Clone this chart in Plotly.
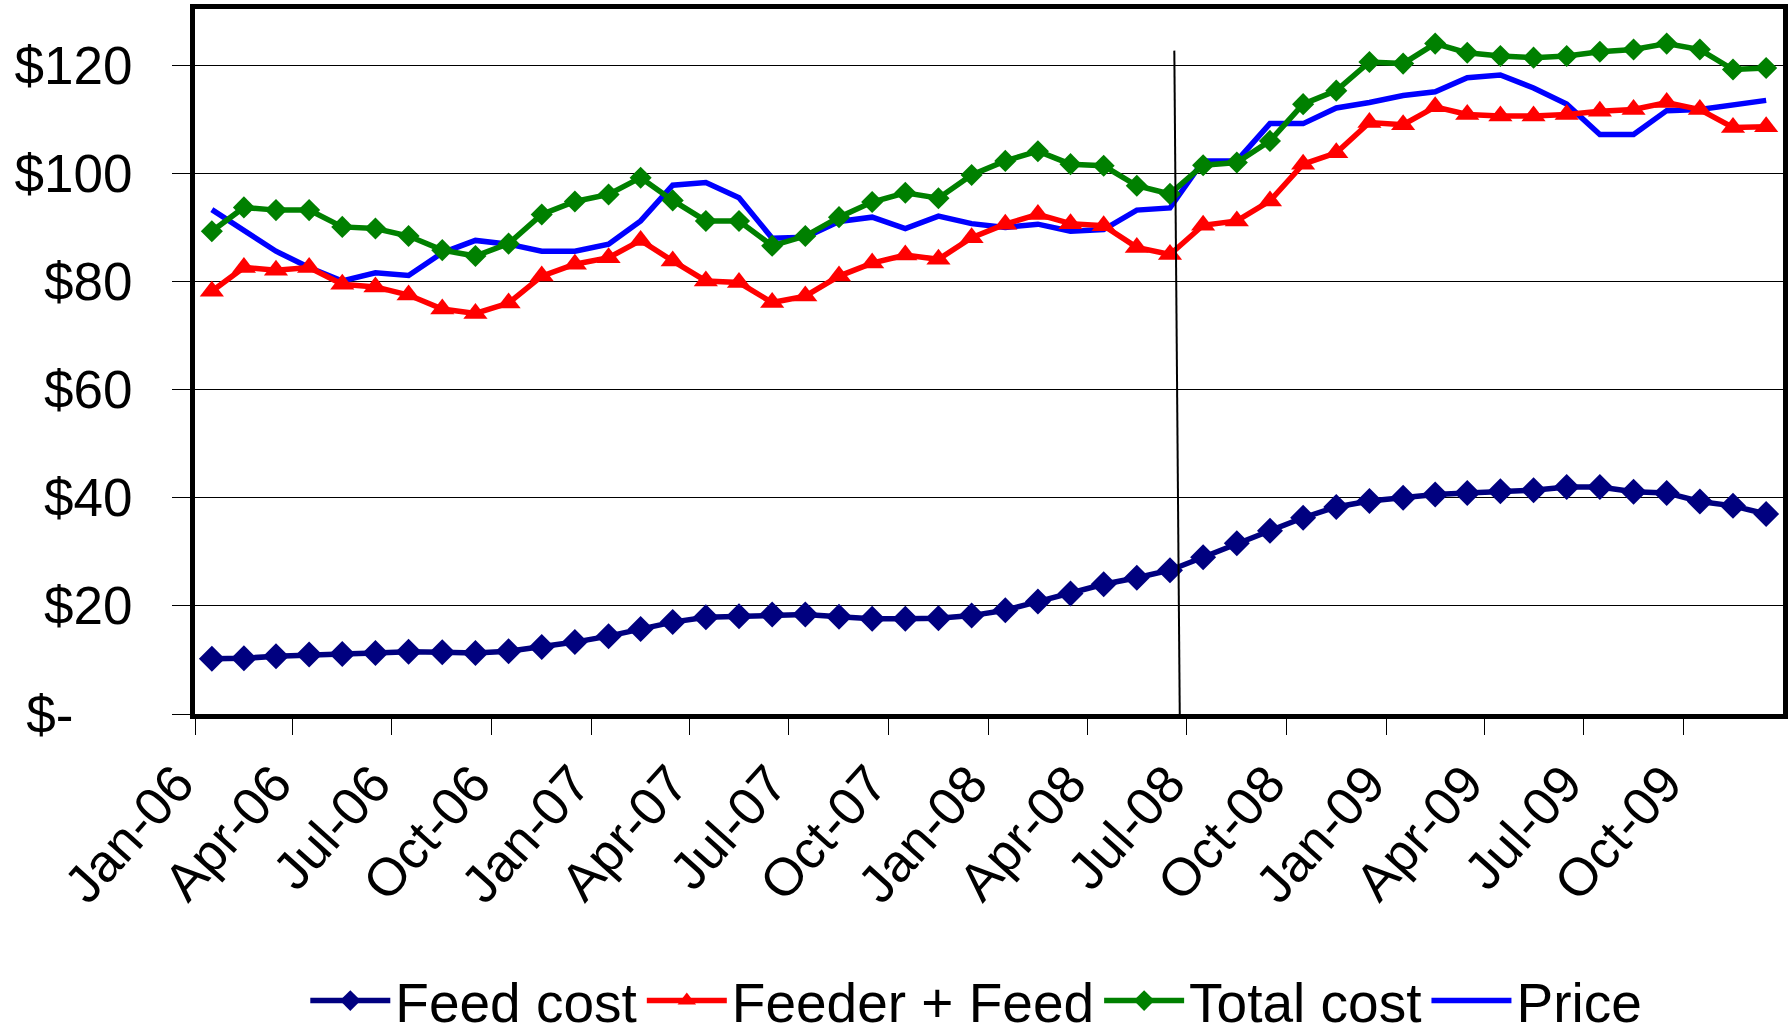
import pandas as pd
import plotly.graph_objects as go

# monthly series Jan-06 .. Dec-09
MONTHS = pd.period_range("2006-01", "2009-12", freq="M").strftime("%Y-%m").tolist()
TICK_MONTHS = MONTHS[::3]
TICK_LABELS = ["Jan-06", "Apr-06", "Jul-06", "Oct-06", "Jan-07", "Apr-07", "Jul-07", "Oct-07",
               "Jan-08", "Apr-08", "Jul-08", "Oct-08", "Jan-09", "Apr-09", "Jul-09", "Oct-09"]
Y_TICKS = [0, 20, 40, 60, 80, 100, 120]
Y_TICK_LABELS = ["$-\u00a0\u00a0\u00a0\u00a0", "$20", "$40", "$60", "$80", "$100", "$120"]

FEED_COST = [10.2, 10.3, 10.7, 11.0, 11.1, 11.3, 11.5, 11.4, 11.3, 11.6, 12.4, 13.3,
             14.4, 15.7, 17.0, 17.9, 18.1, 18.4, 18.4, 18.0, 17.6, 17.6, 17.7, 18.2,
             19.2, 20.8, 22.3, 24.0, 25.2, 26.6, 29.0, 31.6, 33.9, 36.3, 38.3, 39.4,
             40.0, 40.6, 40.9, 41.2, 41.4, 42.0, 42.0, 41.1, 40.9, 39.3, 38.5, 37.0]
FEEDER_FEED = [78.2, 82.6, 82.1, 82.6, 79.5, 79.0, 77.5, 74.9, 74.1, 76.0, 81.0, 83.2,
               84.4, 87.6, 83.8, 80.1, 79.8, 76.1, 77.3, 81.0, 83.4, 84.9, 84.1, 88.1,
               90.6, 92.4, 90.7, 90.3, 86.3, 85.0, 90.4, 91.2, 94.9, 101.7, 103.8, 109.4,
               109.0, 112.3, 110.9, 110.6, 110.6, 110.9, 111.5, 111.8, 113.1, 111.8, 108.5, 108.6]
TOTAL_COST = [89.3, 93.7, 93.2, 93.2, 90.1, 89.8, 88.4, 85.8, 84.7, 87.0, 92.4, 94.8,
              96.1, 99.2, 95.0, 91.2, 91.2, 86.6, 88.4, 91.9, 94.7, 96.4, 95.4, 99.7,
              102.3, 104.1, 101.7, 101.4, 97.7, 96.2, 101.5, 102.0, 106.0, 112.8, 115.3, 120.6,
              120.3, 124.0, 122.3, 121.7, 121.4, 121.7, 122.5, 122.9, 124.0, 122.9, 119.2, 119.5]
PRICE = [93.3, 89.3, 85.6, 82.6, 80.1, 81.6, 81.1, 85.3, 87.6, 86.9, 85.6, 85.6,
         86.9, 91.2, 97.8, 98.3, 95.5, 88.0, 88.2, 91.1, 91.9, 89.8, 92.1, 90.7,
         90.0, 90.6, 89.3, 89.6, 93.2, 93.6, 102.3, 102.3, 109.2, 109.2, 112.1, 113.1,
         114.4, 115.1, 117.7, 118.2, 115.8, 112.8, 107.2, 107.2, 111.6, 111.8, 112.6, 113.5]

FONT = "Arial, Liberation Sans, sans-serif"

fig = go.Figure()

common = dict(x=MONTHS, xperiod="M1", xperiodalignment="middle", mode="lines+markers")

# price first so the marker series sit on top of it
fig.add_trace(go.Scatter(y=PRICE, name="Price", mode="lines", x=MONTHS, xperiod="M1",
                         xperiodalignment="middle", line=dict(color="#0000FF", width=5.5),
                         legendrank=4))
fig.add_trace(go.Scatter(y=FEED_COST, name="Feed cost", **common,
                         line=dict(color="#000080", width=5.5),
                         marker=dict(symbol="diamond", size=20, color="#000080"),
                         legendrank=1))
fig.add_trace(go.Scatter(y=FEEDER_FEED, name="Feeder + Feed", **common,
                         line=dict(color="#FF0000", width=5.5),
                         marker=dict(symbol="triangle-up", size=21, color="#FF0000"),
                         legendrank=2))
fig.add_trace(go.Scatter(y=TOTAL_COST, name="Total cost", **common,
                         line=dict(color="#008000", width=5.5),
                         marker=dict(symbol="diamond", size=17, color="#008000"),
                         legendrank=3))

# hand-drawn divider line around mid-2008
fig.add_shape(type="line", xref="x", yref="y",
              x0="2008-06-20", y0=122.7, x1="2008-06-25", y1=-0.2,
              line=dict(color="black", width=2))

fig.update_layout(
    width=1788, height=1036,
    margin=dict(l=195, r=5, t=9, b=322, autoexpand=False),
    paper_bgcolor="white", plot_bgcolor="white",
    font=dict(family=FONT, size=52, color="black"),
    showlegend=True,
    legend=dict(orientation="h", x=0.492, xanchor="center",
                yref="container", y=0.034, yanchor="middle",
                font=dict(size=55), itemwidth=80, tracegroupgap=0),
    xaxis=dict(
        type="date", range=["2006-01-01", "2010-01-01"], automargin=False,
        tickmode="array", tickvals=TICK_MONTHS, ticktext=TICK_LABELS,
        tickangle=-48, ticks="outside", ticklen=16, tickcolor="black", tickwidth=1,
        showgrid=False, showline=True, linecolor="black", linewidth=5, mirror=True,
        tickfont=dict(size=53), zeroline=False,
        ticklabelshift=-18, ticklabelstandoff=-4,
    ),
    yaxis=dict(
        range=[0, 130.4], automargin=False,
        tickmode="array", tickvals=Y_TICKS, ticktext=Y_TICK_LABELS,
        ticks="outside", ticklen=18, tickcolor="black", tickwidth=1,
        showgrid=True, gridcolor="black", gridwidth=1,
        showline=True, linecolor="black", linewidth=5, mirror=True,
        tickfont=dict(size=53), zeroline=False, ticklabelstandoff=29,
    ),
)

# drop the default 8px page margin so the figure sits at the window origin
fig.write_html("out.html", config={"displayModeBar": False},
               post_script="document.body.style.margin='0';")
